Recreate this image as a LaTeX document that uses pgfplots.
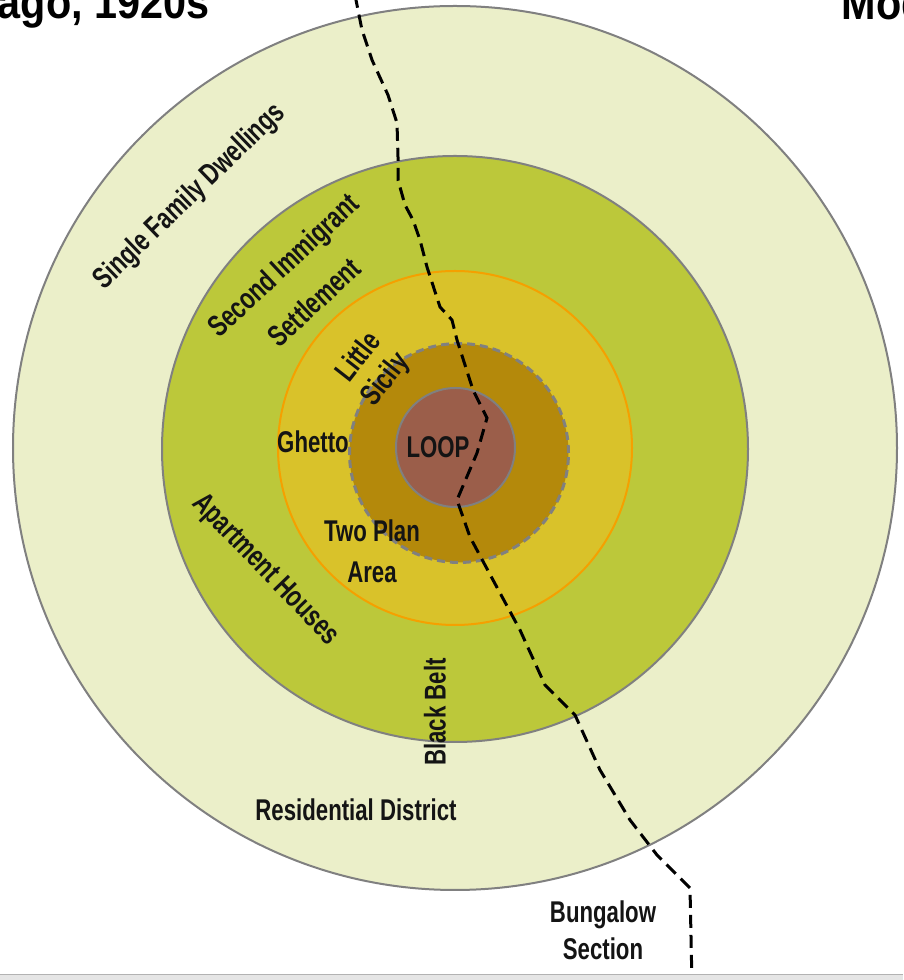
\documentclass[border=0pt]{standalone}
\usepackage{pgfplots}
\pgfplotsset{compat=1.18}
\usepackage{fontspec}
\setmainfont{Liberation Sans}[FakeStretch=0.74, BoldFeatures={FakeStretch=0.74}]
\newfontfamily\titlefont{Liberation Sans Bold}[FakeStretch=0.9]
\definecolor{zoneA}{RGB}{235,239,201}
\definecolor{zoneB}{RGB}{188,200,58}
\definecolor{zoneC}{RGB}{217,194,42}
\definecolor{zoneD}{RGB}{180,137,11}
\definecolor{zoneE}{RGB}{155,94,74}
\definecolor{ringgray}{RGB}{128,128,128}
\definecolor{ringorange}{RGB}{245,160,0}
\definecolor{labeltext}{RGB}{20,20,20}
\begin{document}
\begin{tikzpicture}
\path[use as bounding box, clip] (0,0) rectangle (903pt,980pt);
\fill[white] (0,0) rectangle (903pt,980pt);
\begin{axis}[at={(0,0)}, anchor=south west, scale only axis,
  width=903pt, height=980pt, xmin=0, xmax=903, ymin=0, ymax=980,
  axis lines=none, clip=false]
% zones
\draw[ringgray, line width=2pt, fill=zoneA] (axis cs:455,532) circle [radius=442];
\draw[ringgray, line width=2pt, fill=zoneB] (axis cs:455,531) circle [radius=293];
\draw[ringorange, line width=2pt, fill=zoneC] (axis cs:455,532) circle [radius=177];
\fill[zoneD] (axis cs:459,527) circle [radius=109.5];
\draw[ringgray, line width=3pt, dash pattern=on 8pt off 5pt] (axis cs:459,527) circle [radius=109.5];
\draw[ringgray, line width=2pt, fill=zoneE] (axis cs:455.5,532.5) circle [radius=59.5];
% dividing line
\addplot[black, line width=3pt, dash pattern=on 13pt off 7pt] coordinates {
(355,985) (362,950) (372,920) (388,885) (397,857) (398,823) (398,800)
(405,775) (413,760) (420,740) (427,713) (440,673) (452,660) (457,640)
(473,590) (487,562) (477,527) (457,480) (470,443) (493,400) (520,350)
(545,295) (575,265) (600,210) (630,160) (657,125) (690,92) (692,-5)};
% bottom band
\fill[black!10] (axis cs:0,0) rectangle (axis cs:903,5);
\draw[black!30, line width=1pt] (axis cs:0,5) -- (axis cs:903,5);
% titles (cropped)
\node[anchor=base east, font=\titlefont\fontsize{46}{50}\selectfont] at (axis cs:213,961) {Chicago, 1920s};
\node[anchor=base west, font=\titlefont\fontsize{46}{50}\selectfont] at (axis cs:838,960) {Model};
% labels
\begin{scope}[every node/.style={font=\bfseries\fontsize{30}{34}\selectfont, text=labeltext, inner sep=0pt}]
\node[rotate=44] at (axis cs:190,783) {Single Family Dwellings};
\node[rotate=43] at (axis cs:285,713) {Second Immigrant};
\node[rotate=43] at (axis cs:314,678) {Settlement};
\node[rotate=52] at (axis cs:357,624) {Little};
\node[rotate=52] at (axis cs:386,600) {Sicily};
\node at (axis cs:313,538) {Ghetto};
\node at (axis cs:438,533) {LOOP};
\node at (axis cs:372,449) {Two Plan};
\node at (axis cs:372,408) {Area};
\node[rotate=-46] at (axis cs:265,410) {Apartment Houses};
\node[rotate=90] at (axis cs:435,268) {Black Belt};
\node at (axis cs:356,170) {Residential District};
\node[anchor=base] at (axis cs:603,57) {Bungalow};
\node[anchor=base] at (axis cs:603,20) {Section};
\end{scope}
\end{axis}
\end{tikzpicture}
\end{document}
